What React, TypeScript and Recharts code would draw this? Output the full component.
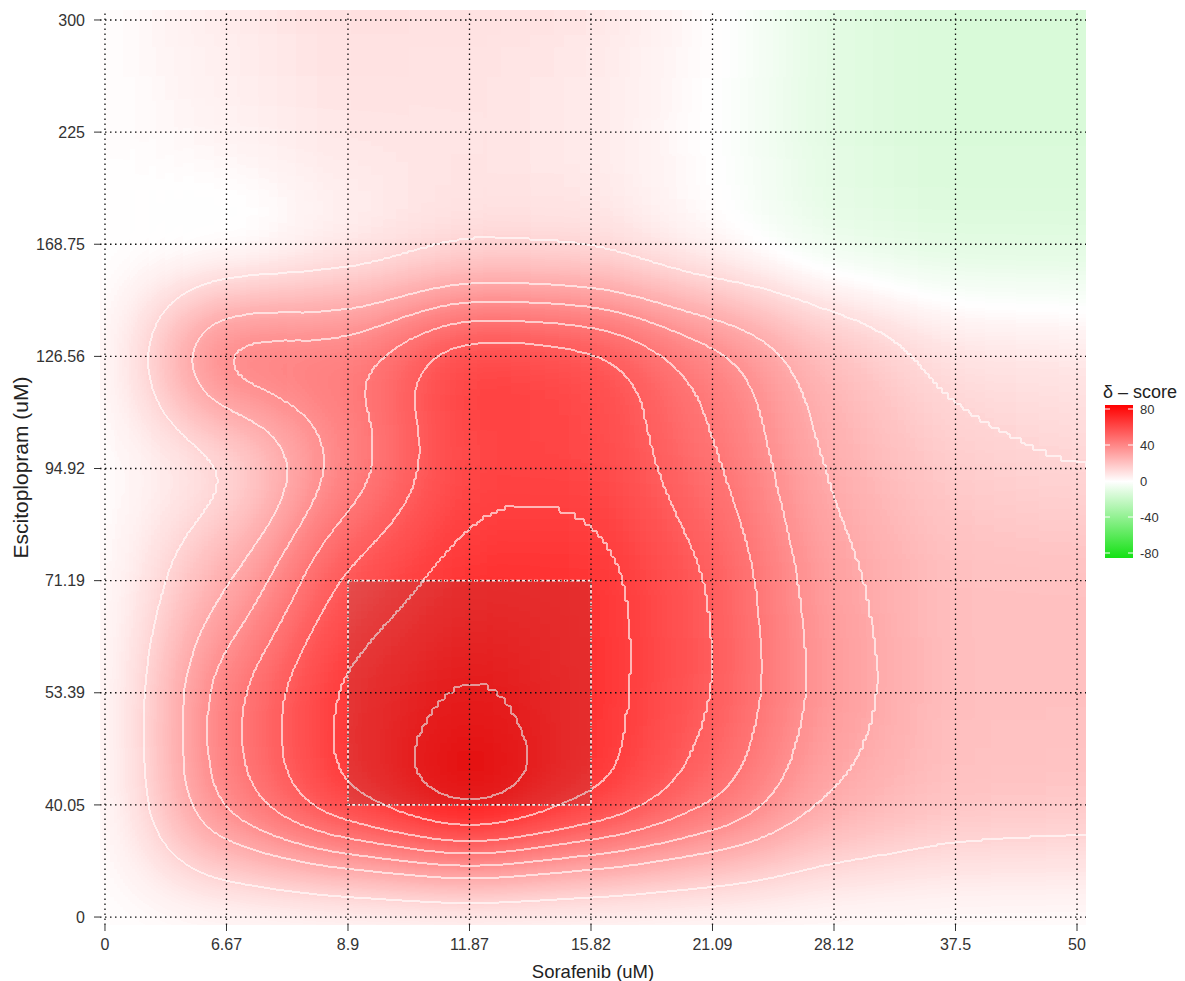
import React from 'react';
import { ScatterChart, Scatter, XAxis, YAxis, ReferenceArea, ReferenceLine } from 'recharts';

// Tick labels (dose levels)
const sorafenibLabels = ['0', '6.67', '8.9', '11.87', '15.82', '21.09', '28.12', '37.5', '50'];
const escitalopramLabels = ['0', '40.05', '53.39', '71.19', '94.92', '126.56', '168.75', '225', '300'];

// δ-score matrix: one row per Escitoplopram dose (bottom → top), values per Sorafenib dose (left → right)
const row_0 = [0, 0, 0, 0, 0, 0, 0, 0, 0];
const row_40_05 = [0, 40, 62, 78, 63, 46, 26, 19, 18];
const row_53_39 = [0, 42, 63, 71, 64, 52, 31, 20, 20];
const row_71_19 = [0, 26, 54, 64, 64, 51, 29, 20, 20];
const row_94_92 = [0, 8, 38, 58, 58, 45, 25, 16, 13];
const row_126_56 = [0, 45, 42, 61, 57, 40, 21, 10, 8];
const row_168_75 = [0, -4, 4, 10, 9, 1, -8, -11, -11];
const row_225 = [0, 4, 8, 8, 6, 0, -10, -13, -13];
const row_300 = [0, 6, 10, 9, 8, 1, -10, -13, -13];

const deltaRows = [row_0, row_40_05, row_53_39, row_71_19, row_94_92, row_126_56, row_168_75, row_225, row_300];

// highlighted most-synergistic area (dose indices)
const boxSorafenib = [2, 4];
const boxEscitalopram = [1, 3];

const legendTicks = [80, 40, 0, -40, -80];
const contourLevels = [13, 27, 35, 43, 51, 60, 69];

const heatData = deltaRows.flatMap((row, ey) => row.map((delta, sx) => ({ sx, ey, delta })));
const tickIdxX = sorafenibLabels.map((_, i) => i);
const tickIdxY = escitalopramLabels.map((_, i) => i);

// layout
const W = 1169;
const H = 973;
const MARGIN = { top: 2, right: 91, bottom: 0, left: 0 };
const Y_AXIS_W = 92;
const X_AXIS_H = 56;
const PLOT_LEFT = MARGIN.left + Y_AXIS_W;
const PLOT_TOP = MARGIN.top;
const PLOT_W = W - PLOT_LEFT - MARGIN.right;
const PLOT_H = H - PLOT_TOP - X_AXIS_H - MARGIN.bottom;
const X_DOMAIN: [number, number] = [-0.041, 8.074];
const Y_DOMAIN: [number, number] = [-0.071, 8.089];
const CELL_W = PLOT_W / (X_DOMAIN[1] - X_DOMAIN[0]);
const CELL_H = PLOT_H / (Y_DOMAIN[1] - Y_DOMAIN[0]);
const FONT = '"Liberation Sans", Arial, Helvetica, sans-serif';
const D_MAX = 80;

function deltaColor(v: number): string {
  const t = Math.max(-1, Math.min(1, v / D_MAX));
  if (t >= 0) {
    const c = Math.round(255 * (1 - t));
    return `rgb(255,${c},${c})`;
  }
  const u = -t;
  const rb = Math.round(255 - u * (255 - 20));
  const g = Math.round(255 - u * (255 - 225));
  return `rgb(${rb},${g},${rb})`;
}

// value encoded in the red channel (full range, for colour) and the green channel
// (positive part, finer steps, for contour levels); the SVG filter blurs and maps them
function encode(v: number): string {
  const c = Math.max(-D_MAX, Math.min(D_MAX, v));
  const r = Math.round(((c + D_MAX) / (2 * D_MAX)) * 255);
  const g = Math.round((Math.max(0, c) / D_MAX) * 255);
  return `rgb(${r},${g},0)`;
}

// posterize table over the green channel: step up by one at each contour level
const posterTable = Array.from({ length: 256 }, (_, k) => {
  const v = ((k + 0.5) / 256) * D_MAX;
  const n = contourLevels.filter((l) => v >= l).length;
  return (n / (contourLevels.length + 1)).toFixed(4);
}).join(' ');

const HeatCell = (props: any) => {
  const { cx, cy, payload } = props;
  if (cx == null || cy == null) return null;
  const ext = 260;
  let x0 = cx - CELL_W / 2;
  let x1 = cx + CELL_W / 2;
  let y0 = cy - CELL_H / 2;
  let y1 = cy + CELL_H / 2;
  if (payload.sx === 0) x0 -= ext;
  if (payload.sx === sorafenibLabels.length - 1) x1 += ext;
  if (payload.ey === 0) y1 += ext;
  if (payload.ey === escitalopramLabels.length - 1) y0 -= ext;
  return <rect x={x0 - 0.5} y={y0 - 0.5} width={x1 - x0 + 1} height={y1 - y0 + 1} fill={encode(payload.delta)} />;
};

const NoShape = () => <g />;

const Legend = () => {
  const barX = 1097;
  const barY = 397;
  const barW = 28;
  const barH = 153;
  const topV = 409 - 8;
  const botV = 553 - 8;
  const yFor = (v: number) => topV + ((D_MAX - v) / (2 * D_MAX)) * (botV - topV);
  return (
    <svg width={W} height={H} style={{ position: 'absolute', left: 0, top: 0, pointerEvents: 'none' }}>
      <defs>
        <linearGradient id="legendGrad" x1="0" y1="0" x2="0" y2="1">
          <stop offset="0%" stopColor={deltaColor(80)} />
          <stop offset="25%" stopColor={deltaColor(40)} />
          <stop offset="50%" stopColor={deltaColor(0)} />
          <stop offset="75%" stopColor={deltaColor(-40)} />
          <stop offset="100%" stopColor={deltaColor(-80)} />
        </linearGradient>
      </defs>
      <text x={1095} y={390} fontSize={18} fontFamily={FONT} fill="#222">δ – score</text>
      <rect x={barX} y={barY} width={barW} height={barH} fill="url(#legendGrad)" />
      {legendTicks.map((v) => (
        <g key={v}>
          <line x1={barX} x2={barX + 5} y1={yFor(v)} y2={yFor(v)} stroke="#fff" strokeWidth={1} />
          <line x1={barX + barW - 5} x2={barX + barW} y1={yFor(v)} y2={yFor(v)} stroke="#fff" strokeWidth={1} />
          <text x={1132} y={yFor(v)} dominantBaseline="central" fontSize={13} fontFamily={FONT} fill="#333">
            {v}
          </text>
        </g>
      ))}
    </svg>
  );
};

function axes(visible: boolean) {
  return [
    <XAxis
      key="x"
      type="number"
      dataKey="sx"
      domain={X_DOMAIN}
      ticks={tickIdxX}
      interval={0}
      tickFormatter={(i: number) => sorafenibLabels[i]}
      height={X_AXIS_H}
      axisLine={false}
      tickLine={visible ? { stroke: '#333' } : false}
      tickSize={6}
      tickMargin={8}
      tick={visible ? { fill: '#333', fontSize: 16, fontFamily: FONT } : false}
      allowDataOverflow
      label={
        visible
          ? { value: 'Sorafenib (uM)', position: 'insideBottom', offset: 3, style: { fontSize: 18.5, fontFamily: FONT, fill: '#222' } }
          : undefined
      }
    />,
    <YAxis
      key="y"
      type="number"
      dataKey="ey"
      domain={Y_DOMAIN}
      ticks={tickIdxY}
      interval={0}
      tickFormatter={(i: number) => escitalopramLabels[i]}
      width={Y_AXIS_W}
      axisLine={false}
      tickLine={visible ? { stroke: '#333' } : false}
      tickSize={6}
      tickMargin={9}
      tick={visible ? { fill: '#333', fontSize: 16, fontFamily: FONT } : false}
      allowDataOverflow
      label={
        visible
          ? {
              value: 'Escitoplopram (uM)',
              angle: -90,
              position: 'insideLeft',
              offset: 13,
              style: { textAnchor: 'middle', fontSize: 21, fontFamily: FONT, fill: '#222' },
            }
          : undefined
      }
    />,
  ];
}

export default function App() {
  const pad = 300;
  const cif = 'sRGB';
  return (
    <div style={{ position: 'relative', width: W, height: H }}>
      <style>{`.heat-layer { filter: url(#heatFilter); clip-path: url(#plotClip); }`}</style>
      <svg width={0} height={0} style={{ position: 'absolute' }}>
        <defs>
          <filter
            id="heatFilter"
            filterUnits="userSpaceOnUse"
            x={PLOT_LEFT - pad}
            y={PLOT_TOP - pad}
            width={PLOT_W + 2 * pad}
            height={PLOT_H + 2 * pad}
            colorInterpolationFilters={cif}
          >
            <feGaussianBlur in="SourceGraphic" stdDeviation={45} result="blur" colorInterpolationFilters={cif} />
            <feColorMatrix
              in="blur"
              type="matrix"
              values="1 0 0 0 0  1 0 0 0 0  1 0 0 0 0  0 0 0 1 0"
              result="valFull"
              colorInterpolationFilters={cif}
            />
            <feComponentTransfer in="valFull" result="colored" colorInterpolationFilters={cif}>
              <feFuncR type="table" tableValues={`${20 / 255} 1 1`} />
              <feFuncG type="table" tableValues={`${225 / 255} 1 0`} />
              <feFuncB type="table" tableValues={`${20 / 255} 1 0`} />
            </feComponentTransfer>
            <feColorMatrix
              in="blur"
              type="matrix"
              values="0 1 0 0 0  0 1 0 0 0  0 1 0 0 0  0 0 0 1 0"
              result="valPos"
              colorInterpolationFilters={cif}
            />
            <feComponentTransfer in="valPos" result="poster" colorInterpolationFilters={cif}>
              <feFuncR type="discrete" tableValues={posterTable} />
              <feFuncG type="discrete" tableValues={posterTable} />
              <feFuncB type="discrete" tableValues={posterTable} />
            </feComponentTransfer>
            <feConvolveMatrix in="poster" order="3" kernelMatrix="0 -1 0 -1 4 -1 0 -1 0" preserveAlpha="true" result="lp" colorInterpolationFilters={cif} />
            <feConvolveMatrix in="poster" order="3" kernelMatrix="0 1 0 1 -4 1 0 1 0" preserveAlpha="true" result="ln" colorInterpolationFilters={cif} />
            <feComposite in="lp" in2="ln" operator="arithmetic" k1="0" k2="1" k3="1" k4="0" result="edges" colorInterpolationFilters={cif} />
            <feColorMatrix
              in="edges"
              type="matrix"
              values="0 0 0 0 1  0 0 0 0 1  0 0 0 0 1  20 0 0 0 0"
              result="edgeMask"
              colorInterpolationFilters={cif}
            />
            <feGaussianBlur in="edgeMask" stdDeviation={0.5} result="edgeSoft" colorInterpolationFilters={cif} />
            <feComponentTransfer in="edgeSoft" result="lines" colorInterpolationFilters={cif}>
              <feFuncA type="linear" slope="0.62" intercept="0" />
            </feComponentTransfer>
            <feMerge>
              <feMergeNode in="colored" />
              <feMergeNode in="lines" />
            </feMerge>
          </filter>
          <clipPath id="plotClip" clipPathUnits="userSpaceOnUse">
            <rect x={PLOT_LEFT} y={PLOT_TOP} width={PLOT_W} height={PLOT_H} />
          </clipPath>
        </defs>
      </svg>
      <ScatterChart width={W} height={H} margin={MARGIN}>
        {axes(true)}
        <Scatter className="heat-layer" data={heatData} shape={HeatCell} isAnimationActive={false} legendType="none" />
      </ScatterChart>
      <div style={{ position: 'absolute', left: 0, top: 0, pointerEvents: 'none' }}>
        <ScatterChart width={W} height={H} margin={MARGIN}>
          {axes(false)}
          <Scatter data={heatData} shape={NoShape} isAnimationActive={false} legendType="none" />
          {tickIdxX.map((i) => (
            <ReferenceLine key={`vx${i}`} x={i} stroke="#111" strokeDasharray="1.5 3.5" strokeWidth={1.3} ifOverflow="visible" />
          ))}
          {tickIdxY.map((i) => (
            <ReferenceLine key={`hy${i}`} y={i} stroke="#111" strokeDasharray="1.5 3.5" strokeWidth={1.3} ifOverflow="visible" />
          ))}
          <ReferenceArea
            x1={boxSorafenib[0]}
            x2={boxSorafenib[1]}
            y1={boxEscitalopram[0]}
            y2={boxEscitalopram[1]}
            fill="#000"
            fillOpacity={0.1}
            stroke="#fff"
            strokeOpacity={0.9}
            strokeDasharray="4 2"
            strokeWidth={1.6}
          />
        </ScatterChart>
      </div>
      <Legend />
    </div>
  );
}
